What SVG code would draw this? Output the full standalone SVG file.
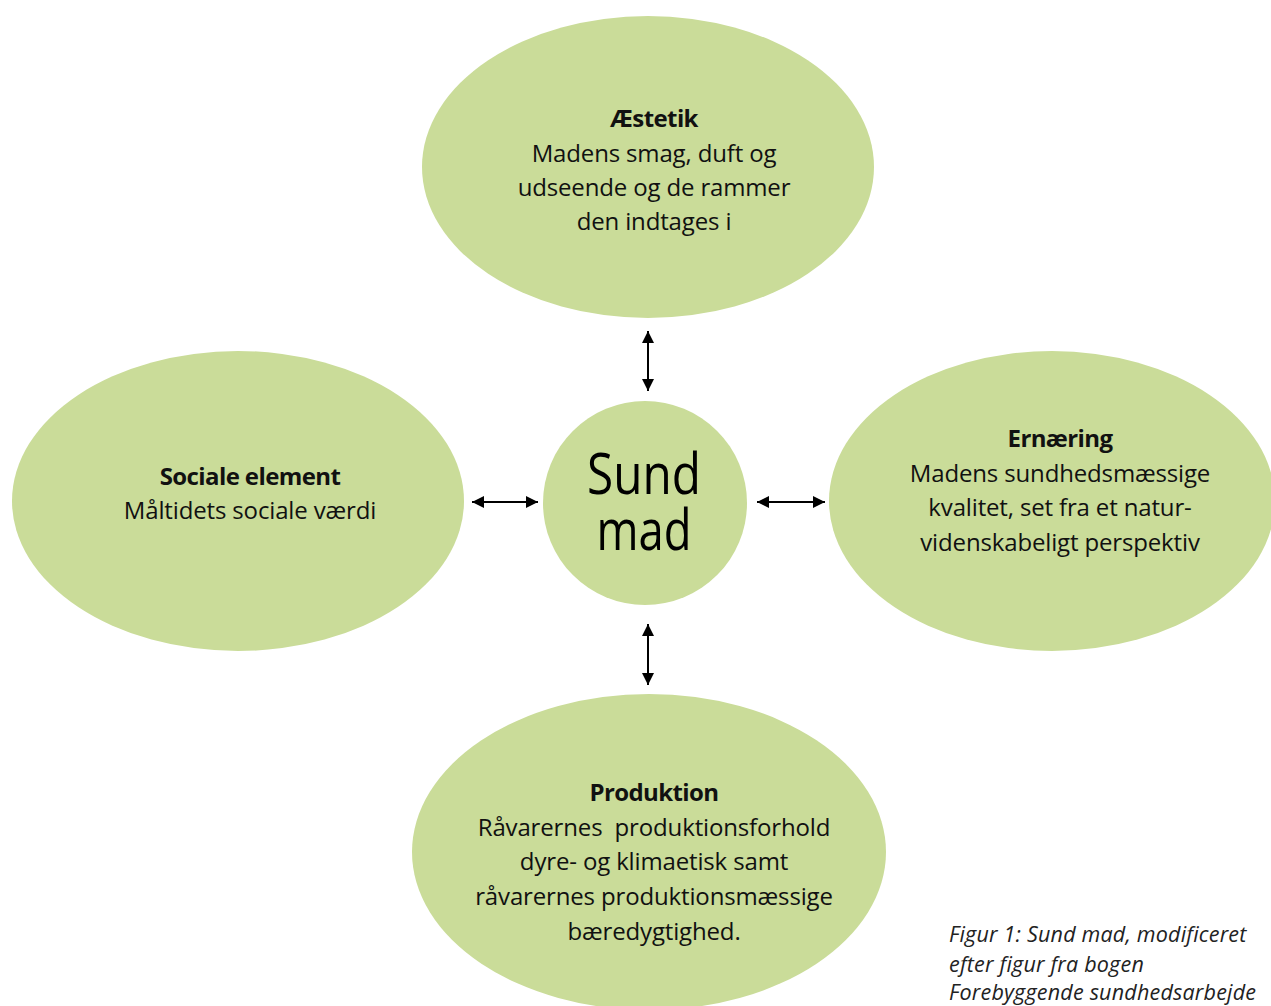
<svg xmlns="http://www.w3.org/2000/svg" width="1271" height="1006" viewBox="0 0 1271 1006">
<style>
.node{fill:#cadc99;}
.t{font-family:"Open Sans","Noto Sans",sans-serif;font-size:24px;fill:#111;text-anchor:middle;letter-spacing:-0.15px;}
.b{font-weight:bold;letter-spacing:-0.6px;}
.big{font-family:"Open Sans","Noto Sans",sans-serif;font-size:56px;fill:#000;text-anchor:middle;}
.cap{font-family:"Open Sans","Noto Sans",sans-serif;font-size:21.5px;font-style:italic;fill:#222;letter-spacing:0.2px;}
.conn{stroke:#000;stroke-width:2;fill:none;marker-start:url(#ah);marker-end:url(#ah);}
</style>
<defs>
<marker id="ah" viewBox="0 0 10 10" refX="10" refY="5" markerWidth="8" markerHeight="6" markerUnits="strokeWidth" orient="auto-start-reverse">
<path d="M0,0 L10,5 L0,10 z" fill="#000"/>
</marker>
</defs>
<rect width="1271" height="1006" fill="#fff"/>
<g id="aestetik">
<ellipse class="node" cx="648" cy="167" rx="226" ry="151"/>
<text class="t b" x="654" y="127">Æstetik</text>
<text class="t" x="654" y="162">Madens smag, duft og</text>
<text class="t" x="654" y="196">udseende og de rammer</text>
<text class="t" x="654" y="230">den indtages i</text>
</g>
<g id="sociale">
<ellipse class="node" cx="238" cy="501" rx="226" ry="150"/>
<text class="t b" x="250" y="485">Sociale element</text>
<text class="t" x="250" y="519">Måltidets sociale værdi</text>
</g>
<g id="ernaering">
<ellipse class="node" cx="1052" cy="501" rx="223" ry="150"/>
<text class="t b" x="1060" y="447">Ernæring</text>
<text class="t" x="1060" y="482">Madens sundhedsmæssige</text>
<text class="t" x="1060" y="516">kvalitet, set fra et natur-</text>
<text class="t" x="1060" y="551">videnskabeligt perspektiv</text>
</g>
<g id="produktion">
<ellipse class="node" cx="649" cy="852" rx="237" ry="158"/>
<text class="t b" x="654" y="801">Produktion</text>
<text class="t" x="654" y="836" xml:space="preserve">Råvarernes  produktionsforhold</text>
<text class="t" x="654" y="870">dyre- og klimaetisk samt</text>
<text class="t" x="654" y="905">råvarernes produktionsmæssige</text>
<text class="t" x="654" y="940">bæredygtighed.</text>
</g>
<g id="sundmad">
<circle class="node" cx="645" cy="503" r="102"/>
<text class="big" x="644" y="494" textLength="114" lengthAdjust="spacingAndGlyphs">Sund</text>
<text class="big" x="644" y="550" textLength="95" lengthAdjust="spacingAndGlyphs">mad</text>
</g>
<g id="connectors">
<line class="conn" x1="648" y1="331" x2="648" y2="391"/>
<line class="conn" x1="648" y1="624" x2="648" y2="685"/>
<line class="conn" x1="472" y1="502" x2="538" y2="502"/>
<line class="conn" x1="757" y1="502" x2="825" y2="502"/>
</g>
<g id="caption">
<text class="cap" x="949" y="942">Figur 1: Sund mad, modificeret</text>
<text class="cap" x="949" y="972">efter figur fra bogen</text>
<text class="cap" x="949" y="1000">Forebyggende sundhedsarbejde</text>
</g>
</svg>
